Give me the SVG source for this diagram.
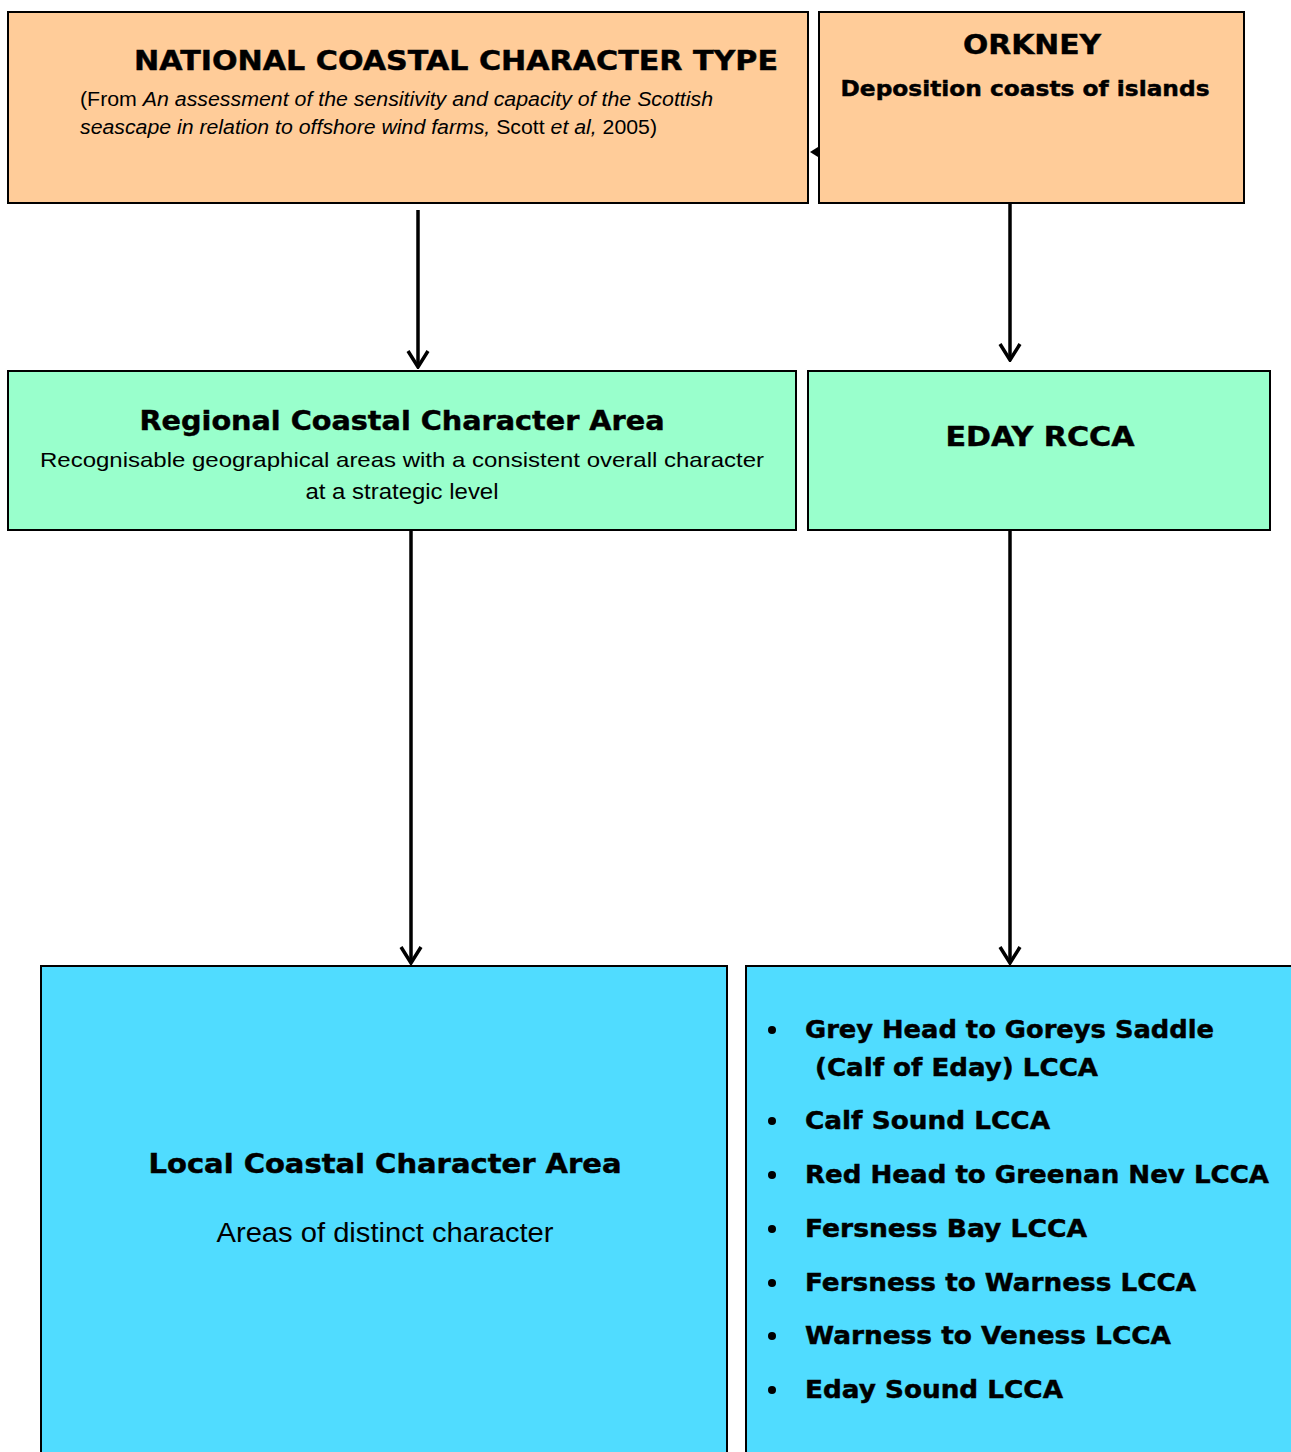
<svg xmlns="http://www.w3.org/2000/svg" width="1291" height="1452" viewBox="0 0 1291 1452">
<style>
.box{stroke:#000;stroke-width:2}
.nat{fill:#FFCC99}
.reg{fill:#99FFCC}
.loc{fill:#50DCFF}
.b{font-family:"DejaVu Sans","Liberation Sans",sans-serif;font-weight:bold;fill:#000;stroke:#000;stroke-width:0.45}
.r{font-family:"Liberation Sans",Arial,sans-serif;fill:#000}
.conn{stroke:#000;stroke-width:3.5;fill:none}
</style>
<defs>
<marker id="v" viewBox="0 0 20 24" refX="18" refY="12" markerWidth="20" markerHeight="24" markerUnits="userSpaceOnUse" orient="auto">
<path d="M2,2 L18,12 L2,22" fill="none" stroke="#000" stroke-width="3.5"/>
</marker>
</defs>
<rect width="1291" height="1452" fill="#fff"/>
<g id="national">
<rect class="box nat" x="8" y="12" width="800" height="191"/>
<text class="b" x="134" y="70" font-size="26" textLength="644" lengthAdjust="spacingAndGlyphs">NATIONAL COASTAL CHARACTER TYPE</text>
<text class="r" x="80" y="106" font-size="20" textLength="633" lengthAdjust="spacingAndGlyphs">(From <tspan font-style="italic">An assessment of the sensitivity and capacity of the Scottish</tspan></text>
<text class="r" x="80" y="134" font-size="20" textLength="577" lengthAdjust="spacingAndGlyphs"><tspan font-style="italic">seascape in relation to offshore wind farms,</tspan> Scott <tspan font-style="italic">et al,</tspan> 2005)</text>
</g>
<g id="orkney">
<rect class="box nat" x="819" y="12" width="425" height="191"/>
<text class="b" x="1032" y="54" font-size="26" text-anchor="middle" textLength="138" lengthAdjust="spacingAndGlyphs">ORKNEY</text>
<text class="b" x="1025" y="96" font-size="21" text-anchor="middle" textLength="369" lengthAdjust="spacingAndGlyphs">Deposition coasts of islands</text>
</g>
<g id="regional">
<rect class="box reg" x="8" y="371" width="788" height="159"/>
<text class="b" x="402" y="430" font-size="26" text-anchor="middle" textLength="525" lengthAdjust="spacingAndGlyphs">Regional Coastal Character Area</text>
<text class="r" x="402" y="467" font-size="21" text-anchor="middle" textLength="724" lengthAdjust="spacingAndGlyphs">Recognisable geographical areas with a consistent overall character</text>
<text class="r" x="402" y="499" font-size="22" text-anchor="middle" textLength="193" lengthAdjust="spacingAndGlyphs">at a strategic level</text>
</g>
<g id="eday">
<rect class="box reg" x="808" y="371" width="462" height="159"/>
<text class="b" x="1040" y="446" font-size="26" text-anchor="middle" textLength="189" lengthAdjust="spacingAndGlyphs">EDAY RCCA</text>
</g>
<g id="local">
<rect class="box loc" x="41" y="966" width="686" height="500"/>
<text class="b" x="385" y="1173" font-size="26" text-anchor="middle" textLength="473" lengthAdjust="spacingAndGlyphs">Local Coastal Character Area</text>
<text class="r" x="385" y="1242" font-size="27" text-anchor="middle" textLength="337" lengthAdjust="spacingAndGlyphs">Areas of distinct character</text>
</g>
<g id="lcca-list">
<rect class="box loc" x="746" y="966" width="560" height="500"/>
<g fill="#000">
<circle cx="772" cy="1030" r="4"/>
<circle cx="772" cy="1121" r="4"/>
<circle cx="772" cy="1175" r="4"/>
<circle cx="772" cy="1229" r="4"/>
<circle cx="772" cy="1283" r="4"/>
<circle cx="772" cy="1336" r="4"/>
<circle cx="772" cy="1390" r="4"/>
</g>
<text class="b" x="805" y="1038" font-size="24" textLength="409" lengthAdjust="spacingAndGlyphs">Grey Head to Goreys Saddle</text>
<text class="b" x="815" y="1076" font-size="24" textLength="283" lengthAdjust="spacingAndGlyphs">(Calf of Eday) LCCA</text>
<text class="b" x="805" y="1129" font-size="24" textLength="245" lengthAdjust="spacingAndGlyphs">Calf Sound LCCA</text>
<text class="b" x="805" y="1183" font-size="24" textLength="464" lengthAdjust="spacingAndGlyphs">Red Head to Greenan Nev LCCA</text>
<text class="b" x="805" y="1237" font-size="24" textLength="282" lengthAdjust="spacingAndGlyphs">Fersness Bay LCCA</text>
<text class="b" x="805" y="1291" font-size="24" textLength="391" lengthAdjust="spacingAndGlyphs">Fersness to Warness LCCA</text>
<text class="b" x="805" y="1344" font-size="24" textLength="366" lengthAdjust="spacingAndGlyphs">Warness to Veness LCCA</text>
<text class="b" x="805" y="1398" font-size="24" textLength="258" lengthAdjust="spacingAndGlyphs">Eday Sound LCCA</text>
</g>
<g id="connectors">
<line class="conn" x1="418" y1="210" x2="418" y2="367" marker-end="url(#v)"/>
<line class="conn" x1="1010" y1="204" x2="1010" y2="360" marker-end="url(#v)"/>
<line class="conn" x1="411" y1="531" x2="411" y2="963" marker-end="url(#v)"/>
<line class="conn" x1="1010" y1="531" x2="1010" y2="963" marker-end="url(#v)"/>
<polygon points="810,152 818,147 818,157" fill="#000"/>
</g>
</svg>
